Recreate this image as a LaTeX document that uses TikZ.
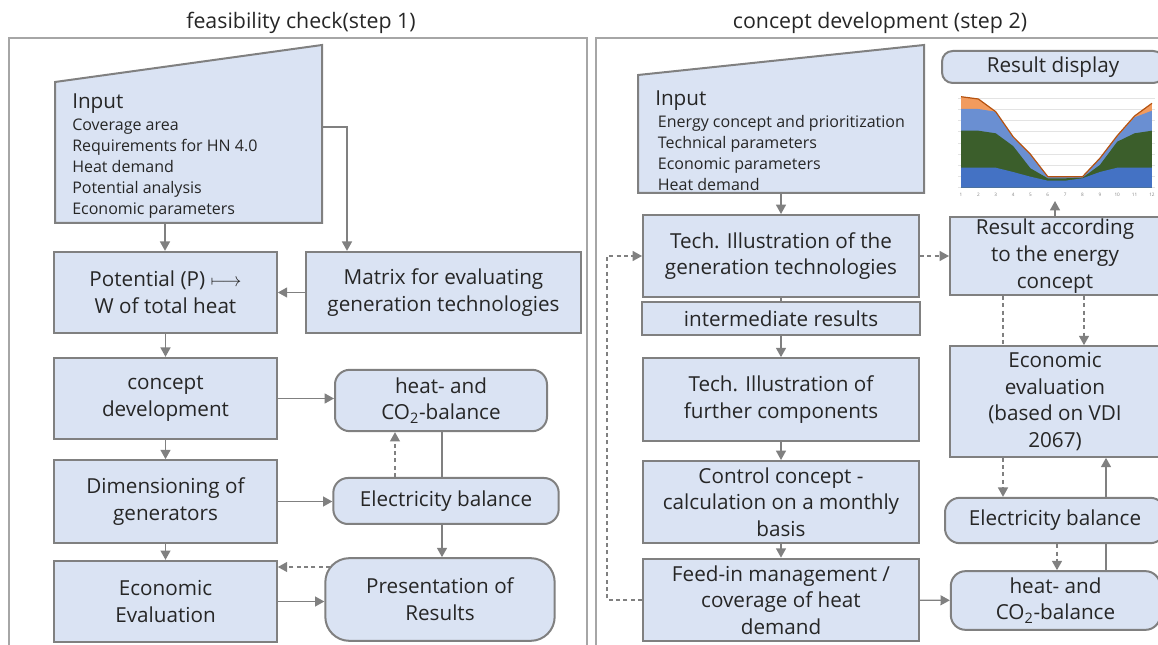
\documentclass[tikz,border=0pt]{standalone}
\usepackage{fontspec}
\setmainfont{Open Sans}
\usepackage{tikz}
\usetikzlibrary{arrows.meta}
\definecolor{boxfill}{HTML}{DAE3F3}
\definecolor{boxline}{HTML}{808080}
\definecolor{frameline}{HTML}{A6A6A6}
\definecolor{ink}{HTML}{262626}
\definecolor{gridgray}{HTML}{E3E3E3}
\definecolor{chartblue}{HTML}{4472C4}
\definecolor{chartgreen}{HTML}{3B5E2B}
\definecolor{chartlight}{HTML}{6A8FD2}
\definecolor{chartorange}{HTML}{F29B5E}
\definecolor{chartedge}{HTML}{B5520F}
\tikzset{
  proc/.style={draw=boxline,fill=boxfill,line width=1.5pt,text=ink,align=center,
    inner sep=1pt,font=\fontsize{15.5}{20}\selectfont},
  bal/.style={proc,rounded corners=11pt},
  intext/.style={text=ink,align=left,inner sep=0pt,anchor=north west,
    font=\fontsize{12}{15.75}\selectfont},
  flow/.style={draw=boxline,line width=1pt,-{Triangle[length=7pt,width=7.5pt]}},
  link/.style={draw=boxline,line width=1pt},
  feedbk/.style={flow,dash pattern=on 3pt off 2.5pt},
  panel/.style={draw=frameline,line width=1.5pt},
}
\begin{document}
\begin{tikzpicture}[x=0.75pt,y=-0.75pt]
\useasboundingbox (0,0) rectangle (1158,645);
\clip (0,0) rectangle (1158,645);

% panels and headings
\draw[panel] (9,660) -- (9,38) -- (587,38) -- (587,660);
\draw[panel] (1170,38) -- (596,38) -- (596,660);
\node[text=ink,anchor=base,font=\fontsize{16}{18}\selectfont] (head1) at (301,29) {feasibility check(step 1)};
\node[text=ink,anchor=base,font=\fontsize{16}{18}\selectfont] (head2) at (880,29) {concept development (step 2)};

% ---- step 1 ----
\filldraw[draw=boxline,fill=boxfill,line width=1.5pt] (55,82) -- (322,45) -- (322,223) -- (55,223) -- cycle;
\node[intext] (inputA) at (72,93.5) {{\fontsize{15.5}{15.75}\selectfont Input}\\[1pt]
  Coverage area\\ Requirements for HN 4.0\\ Heat demand\\ Potential analysis\\ Economic parameters};
\coordinate (inA) at (165,223);
\coordinate (inAr) at (322,127);

\node[proc,minimum width=167pt,minimum height=61pt] (potential) at (165.5,292.5) {Potential (P) $\longmapsto$\\ W of total heat};
\node[proc,minimum width=206pt,minimum height=61pt] (matrix) at (443.5,292.5) {Matrix for evaluating\\ generation technologies};
\node[proc,minimum width=167pt,minimum height=61pt] (concept) at (165.5,398.5) {concept\\ development};
\node[proc,minimum width=167pt,minimum height=62pt] (dimension) at (165.5,501.5) {Dimensioning of\\ generators};
\node[proc,minimum width=167pt,minimum height=61pt] (econA) at (165.5,601.5) {Economic\\ Evaluation};
\node[bal,minimum width=159pt,minimum height=46pt] (heatA) at (441,400.5) {heat- and\\ CO\textsubscript{2}-balance};
\node[bal,minimum width=169pt,minimum height=34.5pt] (elecA) at (446,501) {Electricity balance};
\node[bal,rounded corners=18pt,minimum width=172pt,minimum height=62pt] (presA) at (440,599.5) {Presentation of\\ Results};
\coordinate (presAfb) at (330,567);

\draw[flow] (inA) -- (inA |- potential.north);
\draw[flow] (inAr) -| (matrix.north -| 347,0);
\draw[flow] (matrix.west) -- (matrix.west -| potential.east);
\draw[flow] (potential) -- (concept);
\draw[flow] (concept) -- (dimension);
\draw[flow] (dimension) -- (econA);
\draw[flow] (concept.east) -- (concept.east -| heatA.west);
\draw[flow] (dimension.east) -- (dimension.east -| elecA.west);
\draw[flow] (econA.east) -- (econA.east -| presA.west);
\draw[feedbk] (presAfb) -- (presAfb -| econA.east);
\draw[feedbk] (elecA.north -| 395,0) -- (heatA.south -| 395,0);
\draw[link] (heatA.south -| 442,0) -- (elecA.north -| 442,0);
\draw[flow] (elecA.south -| 442,0) -- (presA.north -| 442,0);

% ---- step 2 ----
\filldraw[draw=boxline,fill=boxfill,line width=1.5pt] (638,75) -- (924,45) -- (924,193) -- (638,193) -- cycle;
\node[intext] (inputB) at (655,90.5) {{\fontsize{15.5}{15.75}\selectfont Input}\\[1pt]
  \,Energy concept and prioritization\\ \,Technical parameters\\ \,Economic parameters\\ \,Heat demand};
\coordinate (inB) at (781,193);

\node[proc,minimum width=207pt,minimum height=61.5pt] (genTech) at (781,256) {Tech. Illustration of the\\ generation technologies};
\node[proc,minimum width=208pt,minimum height=24.5pt] (interRes) at (781,318.5) {intermediate results};
\node[proc,minimum width=207pt,minimum height=62pt] (furtherComp) at (781,399.5) {Tech. Illustration of\\ further components};
\node[proc,minimum width=207pt,minimum height=61.5pt] (control) at (781,502) {Control concept -\\ calculation on a monthly\\ basis};
\node[proc,minimum width=207pt,minimum height=62pt] (feedIn) at (781,600) {Feed-in management /\\ coverage of heat\\ demand};

\node[bal,rounded corners=8pt,minimum width=166.5pt,minimum height=24pt] (resultDisp) at (1053,67) {Result display};
\node[proc,minimum width=157.5pt,minimum height=58.5pt] (resultEnergy) at (1055,256) {Result according\\ to the energy\\ concept};
\node[proc,minimum width=157.5pt,minimum height=83pt] (econEval) at (1055,401.5) {Economic\\ evaluation\\ (based on VDI\\ 2067)};
\node[bal,minimum width=165pt,minimum height=34pt] (elecB) at (1055,520.5) {Electricity balance};
\node[bal,minimum width=157pt,minimum height=44pt] (heatB) at (1055.5,600.5) {heat- and\\ CO\textsubscript{2}-balance};
\coordinate (chartFoot) at (1055,201);

% monthly stacked area chart
\begin{scope}[x=13.02pt,xshift=707.73pt]
  \foreach \g in {0,...,8}
    \draw[gridgray,line width=0.6pt] (0.85,98.3+11.17*\g) -- (12.15,98.3+11.17*\g);
  \fill[chartorange] (1,187.7) -- plot coordinates {(1,96.7) (2,99) (3,111.7) (4,136.7) (5,154.3) (6,176.7) (7,176.7) (8,176.7) (9,158.3) (10,135.7) (11,116) (12,103.3)} -- (12,187.7) -- cycle;
  \fill[chartlight] (1,187.7) -- plot coordinates {(1,109) (2,109) (3,111.7) (4,137.7) (5,155) (6,176.7) (7,176.7) (8,176.7) (9,158.3) (10,136.7) (11,117.3) (12,110.7)} -- (12,187.7) -- cycle;
  \fill[chartgreen] (1,187.7) -- plot coordinates {(1,130.7) (2,130.7) (3,133.3) (4,146) (5,168.3) (6,178.3) (7,178.3) (8,177.7) (9,165) (10,141.7) (11,133.3) (12,130.7)} -- (12,187.7) -- cycle;
  \fill[chartblue] (1,187.7) -- plot coordinates {(1,167.7) (2,167.7) (3,167.7) (4,172) (5,176.7) (6,180.7) (7,180.7) (8,178.3) (9,172) (10,167.7) (11,167.7) (12,167.7)} -- (12,187.7) -- cycle;
  \draw[chartedge,line width=0.9pt] plot coordinates {(1,96.7) (2,99) (3,111.7) (4,136.7) (5,154.3) (6,176.7) (7,176.7) (8,176.7) (9,158.3) (10,135.7) (11,116) (12,103.3)};
  \foreach \m in {1,...,12}
    \node[text=gray,font=\fontsize{3.5}{4}\selectfont,inner sep=0pt] (month\m) at (\m,195) {\m};
\end{scope}

\draw[flow] (inB) -- (genTech);
\draw[link] (genTech) -- (interRes);
\draw[flow] (interRes) -- (furtherComp);
\draw[flow] (furtherComp) -- (control);
\draw[flow] (control) -- (feedIn);
\draw[feedbk] (feedIn.west) -- ++(-35,0) |- (genTech.west);
\draw[feedbk] (genTech) -- (resultEnergy);
\draw[flow] (feedIn) -- (heatB);
\draw[flow] (resultEnergy) -- (chartFoot);
\draw[link,dash pattern=on 3pt off 2.5pt] (resultEnergy.south -| 1003,0) -- (econEval.north -| 1003,0);
\draw[feedbk] (resultEnergy.south -| 1084,0) -- (econEval.north -| 1084,0);
\draw[feedbk] (econEval.south -| 1003,0) -- (elecB.north -| 1003,0);
\draw[link] (heatB.north -| 1106,0) -- (elecB.south -| 1106,0);
\draw[flow] (elecB.north -| 1106,0) -- (econEval.south -| 1106,0);
\draw[feedbk] (elecB.south -| 1057,0) -- (heatB.north -| 1057,0);
\end{tikzpicture}
\end{document}
